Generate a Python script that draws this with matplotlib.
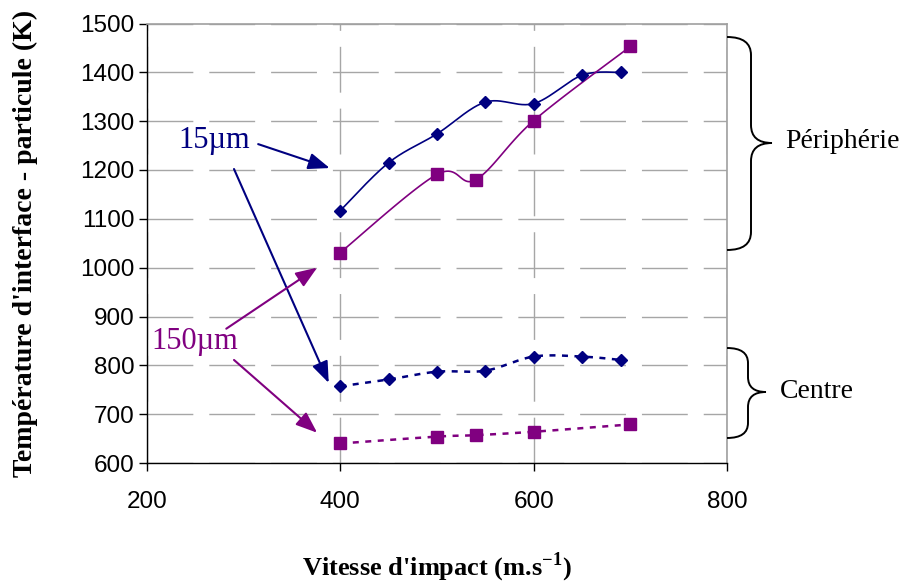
import numpy as np
import matplotlib.pyplot as plt
from matplotlib.path import Path
from matplotlib.patches import PathPatch

# data
x_15 = [400, 450, 500, 550, 600, 650, 690]
t_15_peri = [1117, 1215, 1274, 1339, 1336, 1394, 1400]
t_15_centre = [757, 771, 787, 789, 818, 818, 811]

x_150 = [400, 500, 540, 600, 700]
t_150_peri = [1031, 1191, 1180, 1301, 1453]
t_150_centre = [640, 654, 657, 664, 679]

x_ticks = [200, 400, 600, 800]
y_ticks = [600, 700, 800, 900, 1000, 1100, 1200, 1300, 1400, 1500]

BLUE = '#000080'
PURPLE = '#800080'
SERIF = 'Liberation Serif'
SANS = 'Liberation Sans'

plt.rcParams['mathtext.fontset'] = 'custom'
plt.rcParams['mathtext.bf'] = 'Liberation Serif:bold'
plt.rcParams['mathtext.rm'] = 'Liberation Serif'


def smooth(xs, ys, n=30):
    # Excel-like smoothed line: cubic bezier, catmull-rom control points
    p = np.column_stack([xs, ys]).astype(float)
    out = [p[0]]
    for i in range(len(p) - 1):
        p_prev = p[i - 1] if i > 0 else p[i]
        p_next = p[i + 2] if i + 2 < len(p) else p[i + 1]
        c1 = p[i] + (p[i + 1] - p_prev) / 6
        c2 = p[i + 1] - (p_next - p[i]) / 6
        t = np.linspace(0, 1, n)[1:, None]
        seg = ((1 - t) ** 3 * p[i] + 3 * (1 - t) ** 2 * t * c1
               + 3 * (1 - t) * t ** 2 * c2 + t ** 3 * p[i + 1])
        out.extend(seg)
    out = np.array(out)
    return out[:, 0], out[:, 1]


def brace(fig, x0, x1, xtip, top, bot, ymid, r):
    # coordinates in pixels from the top-left corner
    W, H = 907, 587
    pts = [(x0, top), (x1, top), (x1, top + r), (x1, ymid - r),
           (x1, ymid), (xtip, ymid), (x1, ymid), (x1, ymid + r),
           (x1, bot - r), (x1, bot), (x0, bot)]
    codes = [Path.MOVETO, Path.CURVE3, Path.CURVE3, Path.LINETO,
             Path.CURVE3, Path.CURVE3, Path.CURVE3, Path.CURVE3,
             Path.LINETO, Path.CURVE3, Path.CURVE3]
    verts = [(px / W, 1 - py / H) for px, py in pts]
    fig.add_artist(PathPatch(Path(verts, codes), transform=fig.transFigure,
                             fill=False, lw=1.4, color='black'))


fig = plt.figure(figsize=(9.07, 5.87), dpi=100)
ax = fig.add_axes([147 / 907, 1 - 463 / 587, 580 / 907, 439.5 / 587])

# series
for xs, ys, col, mk, ms, ls in [
        (x_15, t_15_peri, BLUE, 'D', 6.5, '-'),
        (x_150, t_150_peri, PURPLE, 's', 8, '-'),
        (x_15, t_15_centre, BLUE, 'D', 6.5, (0, (2.4, 2.6))),
        (x_150, t_150_centre, PURPLE, 's', 8, (0, (2.4, 2.6)))]:
    sx, sy = smooth(xs, ys)
    lw = 1.2 if ls == '-' else 1.8
    ax.plot(sx, sy, color=col, lw=lw, linestyle=ls, zorder=3)
    ax.plot(xs, ys, linestyle='none', marker=mk, ms=ms, color=col, zorder=4)

ax.set_xlim(200, 800)
ax.set_ylim(600, 1500)
ax.set_xticks(x_ticks)
ax.set_yticks(y_ticks)
ax.grid(True, color='#a6a6a6', lw=1.0, linestyle=(0, (33, 11.5)))
ax.set_axisbelow(True)

for side in ['top', 'right']:
    ax.spines[side].set_color('#a0a0a0')
    ax.spines[side].set_linewidth(1.2)
for side in ['left', 'bottom']:
    ax.spines[side].set_color('black')
    ax.spines[side].set_linewidth(1.0)

ax.tick_params(axis='both', direction='out', length=6, width=1, labelsize=17.5)
ax.tick_params(axis='x', pad=14)
ax.tick_params(axis='y', pad=3)
for lab in ax.get_xticklabels() + ax.get_yticklabels():
    lab.set_fontfamily(SANS)

ax.set_ylabel("Température d'interface - particule (K)", fontfamily=SERIF,
              fontweight='bold', fontsize=20, labelpad=30)
ax.set_xlabel("Vitesse d'impact (m.s$^{\\mathbf{-1}}$)", fontfamily=SERIF,
              fontweight='bold', fontsize=19, labelpad=27)

# labels and arrows
arrow = dict(arrowstyle='-|>,head_length=0.65,head_width=0.25',
             mutation_scale=20, lw=1.5, shrinkA=0, shrinkB=0)
ax.text(269, 1261, '15µm', color=BLUE, fontsize=22, fontfamily=SERIF,
        ha='center', va='center')
ax.annotate('', xy=(389, 1204), xytext=(315, 1253),
            arrowprops=dict(arrow, color=BLUE), annotation_clip=False)
ax.annotate('', xy=(388, 764), xytext=(290, 1202),
            arrowprops=dict(arrow, color=BLUE), annotation_clip=False)

ax.text(249, 848, '150µm', color=PURPLE, fontsize=22, fontfamily=SERIF,
        ha='center', va='center')
ax.annotate('', xy=(376, 1000), xytext=(282, 875),
            arrowprops=dict(arrow, color=PURPLE), annotation_clip=False)
ax.annotate('', xy=(376, 662), xytext=(290, 811),
            arrowprops=dict(arrow, color=PURPLE), annotation_clip=False)

# braces on the right
brace(fig, 727, 751, 772, 37, 250, 143, 18)
brace(fig, 727, 748, 766, 348, 438, 392, 15)
fig.text(785 / 907, 1 - 141 / 587, 'Périphérie', fontfamily=SERIF,
         fontsize=20, ha='left', va='center')
fig.text(780 / 907, 1 - 392 / 587, 'Centre', fontfamily=SERIF,
         fontsize=20, ha='left', va='center')

fig.savefig('out.png', dpi=100)
